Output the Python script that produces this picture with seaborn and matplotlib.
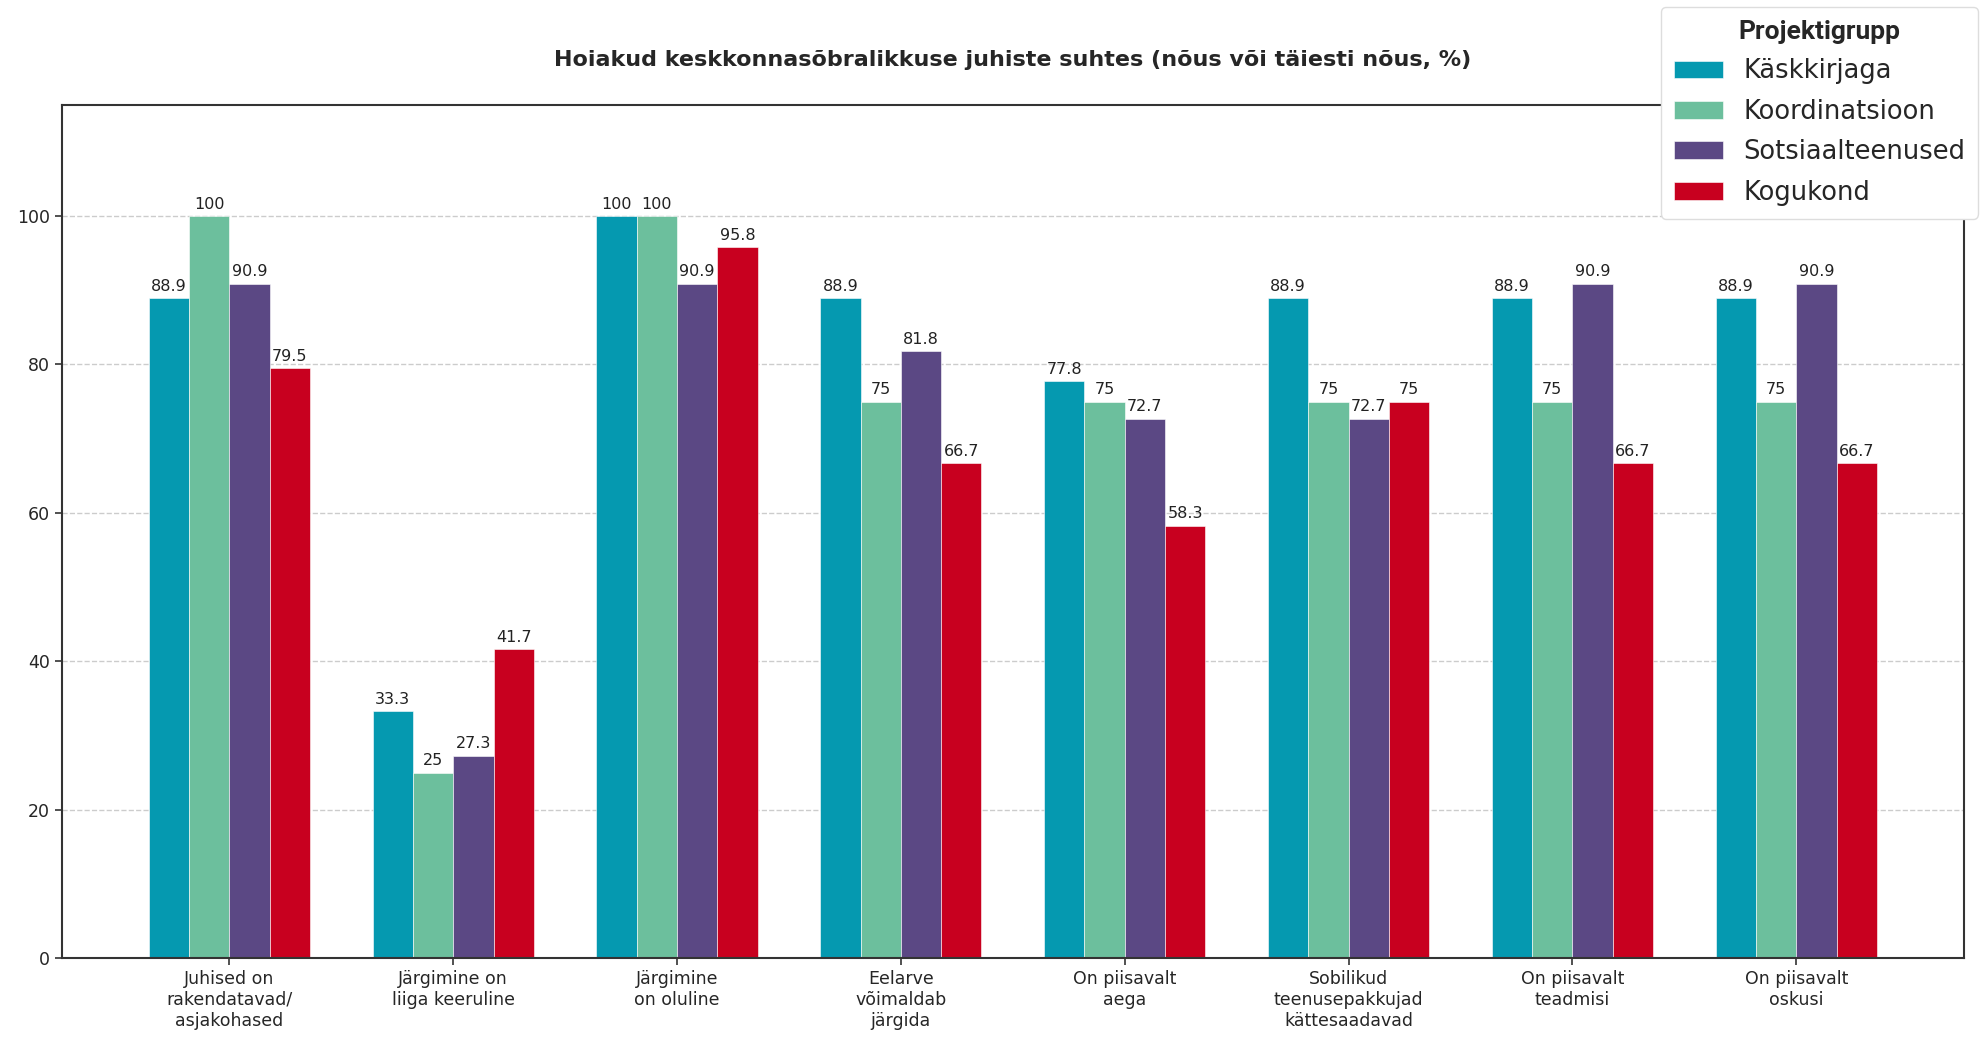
import seaborn as sns
import matplotlib.pyplot as plt
import pandas as pd

# andmed
kategooriad = ['Juhised on\nrakendatavad/\nasjakohased', 'Järgimine on\nliiga keeruline', 'Järgimine\non oluline',
               'Eelarve\nvõimaldab\njärgida', 'On piisavalt\naega', 'Sobilikud\nteenusepakkujad\nkättesaadavad',
               'On piisavalt\nteadmisi', 'On piisavalt\noskusi']
grupid = ['Käskkirjaga', 'Koordinatsioon', 'Sotsiaalteenused', 'Kogukond']
kaskkirjaga = [88.9, 33.3, 100, 88.9, 77.8, 88.9, 88.9, 88.9]
koordinatsioon = [100, 25, 100, 75, 75, 75, 75, 75]
sotsiaalteenused = [90.9, 27.3, 90.9, 81.8, 72.7, 72.7, 90.9, 90.9]
kogukond = [79.5, 41.7, 95.8, 66.7, 58.3, 75, 66.7, 66.7]
varvid = ['#0599B0', '#6CBF9D', '#5B4884', '#C8001F']

df = pd.DataFrame({'Käskkirjaga': kaskkirjaga, 'Koordinatsioon': koordinatsioon,
                   'Sotsiaalteenused': sotsiaalteenused, 'Kogukond': kogukond}, index=kategooriad)
df = df.reset_index().melt(id_vars='index', var_name='Projektigrupp', value_name='protsent')

sns.set_style('white')
plt.rcParams['font.family'] = ['DejaVu Sans']

fig = plt.figure(figsize=(19.84, 10.37), dpi=100)
ax = fig.add_axes([0.031, 0.076, 0.959, 0.823])

sns.barplot(data=df, x='index', y='protsent', hue='Projektigrupp', hue_order=grupid,
            palette=varvid, width=0.72, gap=0, saturation=1, errorbar=None,
            edgecolor='white', linewidth=0.4, ax=ax)

for c in ax.containers:
    ax.bar_label(c, fmt='%g', padding=3, fontsize=11.5, color='#222222')

ax.set_xlim(-0.75, 7.75)
ax.set_ylim(0, 115)
ax.set_yticks([0, 20, 40, 60, 80, 100])
ax.set_xlabel('')
ax.set_ylabel('')
ax.grid(axis='y', linestyle='--', color='#cccccc', linewidth=1)
ax.set_axisbelow(True)
ax.tick_params(axis='both', labelsize=12.5, length=5, width=1.2, color='#333333', bottom=True, left=True)
for s in ax.spines.values():
    s.set_color('#333333')
    s.set_linewidth(1.5)

ax.set_title('Hoiakud keskkonnasõbralikkuse juhiste suhtes (nõus või täiesti nõus, %)',
             fontsize=16, fontweight='bold', pad=28)

leg = ax.legend(title='Projektigrupp', loc='upper right', bbox_to_anchor=(0.997, 0.993),
                bbox_transform=fig.transFigure, borderaxespad=0, fontsize=18.5,
                handlelength=1.9, labelspacing=0.56, borderpad=0.5,
                frameon=True, framealpha=1, edgecolor='#dddddd')
leg.get_title().set_fontfamily('Roboto')
leg.get_title().set_fontweight('bold')
leg.get_title().set_fontsize(19)

plt.savefig('out.png')
